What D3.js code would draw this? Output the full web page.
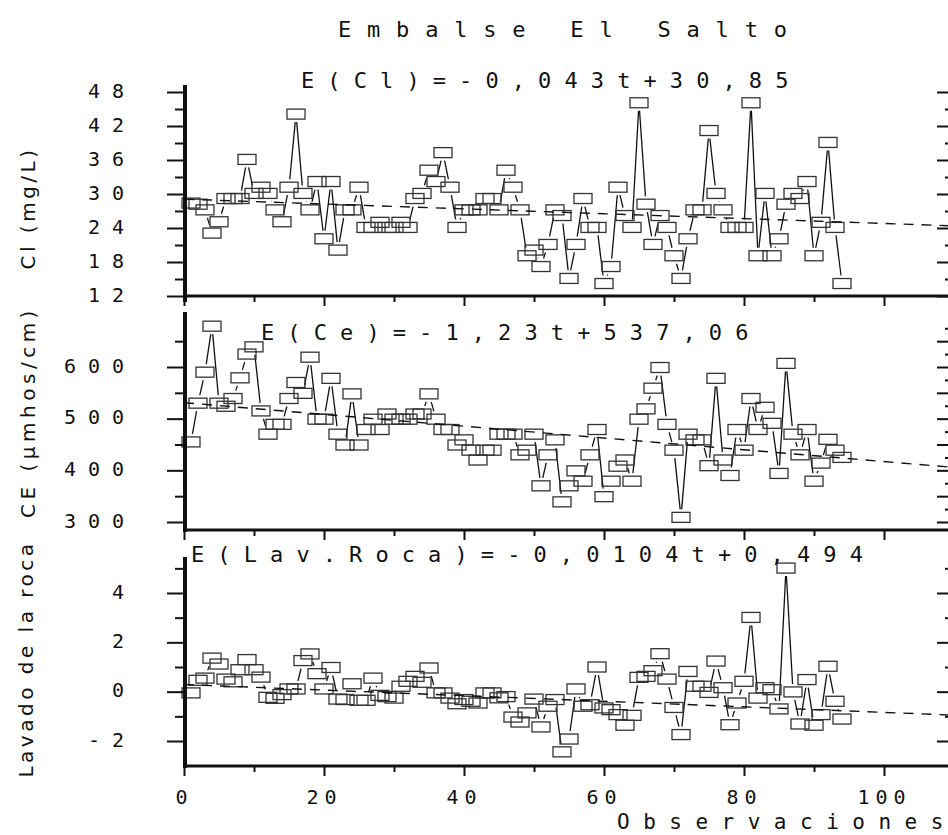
<!DOCTYPE html>
<html>
<head>
<meta charset="utf-8">
<script src="https://cdn.jsdelivr.net/npm/d3@7"></script>
<style>
    body { margin: 0; background: #fff; }
    svg { display: block; }
</style>
</head>
<body>
<svg id="chart" width="948" height="835"></svg>
<script>
"use strict";

/* Embalse El Salto: three stacked series against observation number. */

var clValues = [
	28.4, 28.2, 27.2, 23.1, 25.1, 29.2, 29.2, 29.2, 36.1, 30.1,
	31.2, 30.1, 27.2, 25.1, 31.2, 44.1, 30.1, 27.2, 32.2, 22.1,
	32.2, 20.1, 27.2, 27.2, 31.2, 24.1, 24.1, 25.0, 24.1, 24.1,
	25.0, 24.1, 29.2, 30.1, 34.2, 32.2, 37.3, 31.2, 24.1, 27.2,
	27.2, 27.2, 29.2, 29.2, 27.2, 34.2, 31.2, 27.2, 19.1, 20.1,
	17.2, 21.1, 27.2, 26.2, 15.1, 21.1, 29.2, 24.1, 24.1, 14.2,
	17.2, 31.2, 26.2, 24.1, 46.1, 28.2, 21.1, 26.2, 24.1, 19.1,
	15.1, 22.1, 27.2, 27.2, 41.2, 30.1, 27.2, 24.1, 24.1, 24.1,
	46.1, 19.1, 30.1, 19.1, 22.1, 28.2, 30.1, 29.2, 32.2, 19.1,
	25.0, 39.1, 24.1, 14.2
    ],
    ceValues = [
	455, 530, 590, 679, 530, 524, 539, 579, 625, 639,
	515, 470, 489, 489, 539, 570, 549, 619, 499, 499,
	578, 470, 449, 548, 449, 479, 499, 479, 509, 499,
	499, 499, 509, 509, 548, 499, 479, 479, 449, 459,
	439, 420, 439, 439, 470, 470, 470, 430, 439, 470,
	370, 430, 459, 339, 370, 399, 379, 430, 479, 349,
	379, 408, 420, 379, 499, 519, 559, 599, 489, 439,
	309, 470, 459, 459, 409, 578, 420, 390, 479, 439,
	539, 479, 522, 491, 394, 607, 470, 430, 479, 379,
	414, 460, 439, 425
    ],
    lavValues = [
	-0.05, 0.46, 0.55, 1.36, 1.12, 0.51, 0.40, 0.89, 1.30, 0.89,
	0.59, -0.23, -0.27, -0.12, 0.11, 0.11, 1.26, 1.53, 0.73, 0.11,
	0.98, -0.30, -0.32, 0.32, -0.35, -0.35, 0.55, -0.15, -0.20, -0.26,
	0.22, 0.42, 0.62, 0.38, 0.96, -0.05, -0.05, -0.26, -0.49, -0.32,
	-0.39, -0.46, -0.05, -0.05, -0.25, -0.20, -1.03, -1.23, -0.86, -0.30,
	-1.43, -0.59, -0.32, -2.44, -1.92, 0.11, -0.59, -0.53, 1.00, -0.66,
	-0.73, -0.93, -1.36, -0.96, 0.58, 0.62, 0.85, 1.54, 0.51, -0.64,
	-1.74, 0.82, 0.22, 0.22, -0.03, 1.24, 0.16, -1.34, -0.46, 0.42,
	3.01, -0.26, 0.16, 0.08, -0.70, 5.01, -0.01, -1.31, 0.49, -1.36,
	-0.93, 1.03, -0.39, -1.11
    ],

    // [intercept, slope] of the dashed trend as drawn
    clTrend = [29.1, -0.043],
    ceTrend = [531, -1.14],
    lavTrend = [0.29, -0.0113],

    clTicks = [12, 18, 24, 30, 36, 42, 48],
    clMinor = [15, 21, 27, 33, 39, 45],
    ceTicks = [300, 400, 500, 600],
    ceMinor = [350, 450, 550, 650],
    ceRight = [300, 350, 400, 450, 500, 550, 600, 650],
    ceRightMinor = [325, 375, 425, 475, 525, 575, 625, 675],
    lavTicks = [-2, 0, 2, 4],
    lavMinor = [-1, 1, 3, 5],
    xTicks = [0, 20, 40, 60, 80, 100],
    xMinor = [10, 30, 50, 70, 90],

    title = "Embalse El Salto",
    xTitle = "Observaciones",

    monoFont = "'DejaVu Sans Mono', monospace",
    sansFont = "'DejaVu Sans', sans-serif",
    ink = "#111",

    leftX = 185,
    rightX = 951;

var svg = d3.select("#chart"),
    x = d3.scaleLinear()
	.domain([0, 100])
	.range([184, 884]),
    xEnd = x.invert(rightX),
    observations = clValues.map(function(v, i) {
	return i + 1;
    }),

    panels = [
	{
	    values: clValues,
	    trend: clTrend,
	    y: d3.scaleLinear().domain([12, 48]).range([296, 92]),
	    ticks: clTicks,
	    minor: clMinor,
	    right: clTicks,
	    rightMinor: clMinor,
	    top: 85,
	    base: 296,
	    bottom: 302,
	    label: "Cl (mg/L)",
	    labelX: 35,
	    labelY: 208,
	    equation: "E(Cl)=-0,043t+30,85",
	    eqX: 301,
	    eqY: 88
	},
	{
	    values: ceValues,
	    trend: ceTrend,
	    y: d3.scaleLinear().domain([300, 600]).range([522, 367]),
	    ticks: ceTicks,
	    minor: ceMinor,
	    right: ceRight,
	    rightMinor: ceRightMinor,
	    top: 312,
	    base: 530,
	    bottom: 532,
	    label: "CE (µmhos/cm)",
	    labelX: 35,
	    labelY: 412,
	    equation: "E(Ce)=-1,23t+537,06",
	    eqX: 261,
	    eqY: 340
	},
	{
	    values: lavValues,
	    trend: lavTrend,
	    y: d3.scaleLinear().domain([-2, 4]).range([741, 593]),
	    ticks: lavTicks,
	    minor: lavMinor,
	    right: lavTicks,
	    rightMinor: lavMinor,
	    top: 557,
	    base: 766,
	    bottom: 768,
	    label: "Lavado de la roca",
	    labelX: 33,
	    labelY: 659,
	    equation: "E(Lav.Roca)=-0,0104t+0,494",
	    eqX: 191,
	    eqY: 562
	}
    ],

    boxW = 18,
    boxH = 10,
    gapX = 12,
    gapY = 8;

// shorten a segment so it stops short of the boxes at both ends
var trimmed = function(a, b) {
    var dx = b[0] - a[0],
	dy = b[1] - a[1],
	s = Math.min(
	    dx ? gapX / Math.abs(dx) : Infinity,
	    dy ? gapY / Math.abs(dy) : Infinity
	);

    if (2 * s >= 1) {
	return null;
    }
    return [a[0] + s * dx, a[1] + s * dy, b[0] - s * dx, b[1] - s * dy];
};

// spaced-out text; the last glyph gets no trailing spacing
var spacedText = function(parent, str, spacing) {
    var t = parent.append("text")
	    .attr("letter-spacing", spacing)
	    .attr("fill", ink);

    t.append("tspan").text(str.slice(0, -1));
    t.append("tspan").attr("letter-spacing", 0).text(str.slice(-1));
    return t;
};

svg.append("defs")
    .append("clipPath")
    .attr("id", "plot-clip")
    .append("rect")
    .attr("x", leftX)
    .attr("y", 0)
    .attr("width", rightX - leftX)
    .attr("height", 835);

spacedText(svg, title, 15.8)
    .attr("x", 338)
    .attr("y", 37)
    .attr("font-family", monoFont)
    .attr("font-size", 22);

panels.forEach(function(p, pi) {
    var g = svg.append("g").attr("class", "panel"),
	pts = p.values.map(function(v, i) {
	    return [x(observations[i]), p.y(v)];
	}),
	segs = d3.pairs(pts)
	    .map(function(pair) {
		return trimmed(pair[0], pair[1]);
	    })
	    .filter(function(s) {
		return s !== null;
	    });

    // y axis title
    g.append("text")
	.attr("transform", "translate(" + p.labelX + "," + p.labelY + ") rotate(-90)")
	.attr("text-anchor", "middle")
	.attr("font-family", sansFont)
	.attr("font-size", 20)
	.attr("letter-spacing", pi === 1 ? 4.5 : 3.5)
	.attr("fill", ink)
	.text(p.label);

    // connecting lines
    g.append("g")
	.selectAll("line")
	.data(segs)
	.join("line")
	.attr("x1", function(s) { return s[0]; })
	.attr("y1", function(s) { return s[1]; })
	.attr("x2", function(s) { return s[2]; })
	.attr("y2", function(s) { return s[3]; })
	.attr("stroke", ink)
	.attr("stroke-width", 1.3);

    // markers
    g.append("g")
	.selectAll("rect")
	.data(pts)
	.join("rect")
	.attr("x", function(d) { return d[0] - boxW / 2; })
	.attr("y", function(d) { return d[1] - boxH / 2; })
	.attr("width", boxW)
	.attr("height", boxH)
	.attr("fill", "none")
	.attr("stroke", "#333")
	.attr("stroke-width", 1.3);

    // dashed trend
    g.append("line")
	.attr("clip-path", "url(#plot-clip)")
	.attr("x1", x(0))
	.attr("y1", p.y(p.trend[0]))
	.attr("x2", x(xEnd))
	.attr("y2", p.y(p.trend[0] + p.trend[1] * xEnd))
	.attr("stroke", ink)
	.attr("stroke-width", 1.4)
	.attr("stroke-dasharray", "10,8");

    // left axis: long labelled ticks, short minor ticks
    var left = g.append("g").attr("transform", "translate(" + leftX + ",0)");

    left.append("g")
	.call(d3.axisLeft(p.y).tickValues(p.minor).tickSize(10).tickFormat(""));
    left.append("g")
	.attr("class", "major")
	.call(d3.axisLeft(p.y).tickValues(p.ticks).tickSize(18).tickPadding(31)
	      .tickFormat(String));
    left.selectAll(".domain").remove();
    left.selectAll("line").attr("stroke", ink).attr("stroke-width", 2);
    left.selectAll(".major text")
	.attr("font-family", monoFont)
	.attr("font-size", 20)
	.attr("letter-spacing", 12)
	.attr("dy", "0.25em")
	.attr("fill", ink);
    left.append("line")
	.attr("y1", p.top)
	.attr("y2", p.bottom)
	.attr("stroke", ink)
	.attr("stroke-width", 4);

    // right ticks pointing inwards
    var right = g.append("g").attr("transform", "translate(" + rightX + ",0)");

    right.append("g")
	.call(d3.axisLeft(p.y).tickValues(p.rightMinor).tickSize(6).tickFormat(""));
    right.append("g")
	.call(d3.axisLeft(p.y).tickValues(p.right).tickSize(14).tickFormat(""));
    right.selectAll(".domain").remove();
    right.selectAll("line").attr("stroke", ink).attr("stroke-width", 2);

    // bottom axis
    var bottom = g.append("g").attr("transform", "translate(0," + p.base + ")");

    bottom.append("g")
	.call(d3.axisBottom(x).tickValues(xMinor).tickSize(6).tickFormat(""));
    bottom.append("g")
	.attr("class", "major")
	.call(d3.axisBottom(x).tickValues(xTicks).tickSize(10)
	      .tickFormat(pi === 2 ? String : ""));
    bottom.selectAll(".domain").remove();
    bottom.selectAll("line").attr("stroke", ink).attr("stroke-width", 2);
    bottom.selectAll(".major text")
	.attr("font-family", monoFont)
	.attr("font-size", 20)
	.attr("letter-spacing", 6)
	.attr("y", 24)
	.attr("dy", "0.71em")
	.attr("fill", ink);
    bottom.append("line")
	.attr("x1", leftX)
	.attr("x2", rightX)
	.attr("stroke", ink)
	.attr("stroke-width", 3);

    spacedText(g, p.equation, 13.1)
	.attr("x", p.eqX)
	.attr("y", p.eqY)
	.attr("font-family", monoFont)
	.attr("font-size", 22);
});

spacedText(svg, xTitle, 13.5)
    .attr("x", 617)
    .attr("y", 829)
    .attr("font-family", monoFont)
    .attr("font-size", 21);
</script>
</body>
</html>
